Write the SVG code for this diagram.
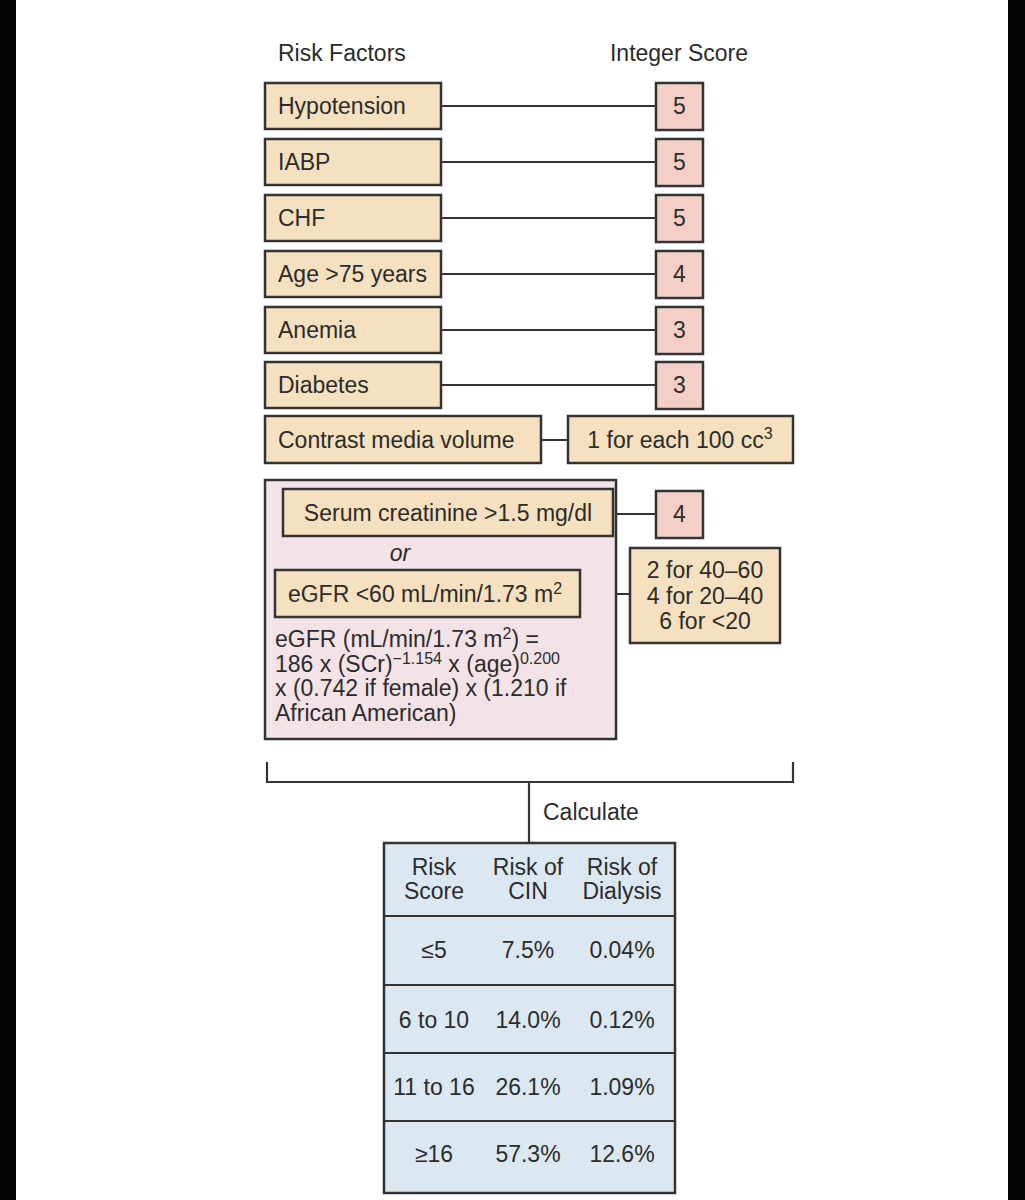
<svg xmlns="http://www.w3.org/2000/svg" width="1025" height="1200" viewBox="0 0 1025 1200">
<style>
text{font-family:"Liberation Sans",Arial,sans-serif;font-size:23px;fill:#2b2b2b}
.f{fill:#f5e0bf;stroke:#333;stroke-width:2.5}
.s{fill:#f5cfc7;stroke:#333;stroke-width:2.5}
.p{fill:#f3e3e6;stroke:#333;stroke-width:2.5}
.t{fill:#dbe8f1;stroke:#333;stroke-width:2.5}
.c{stroke:#333;stroke-width:2.2;fill:none}
.m{text-anchor:middle}
.sup{font-size:16px}
</style>
<rect x="0" y="0" width="1025" height="1200" fill="#fff"/>
<rect x="0" y="0" width="16" height="1200" fill="#050505"/>
<rect x="1008" y="0" width="17" height="1200" fill="#050505"/>
<text x="278" y="61">Risk Factors</text>
<text x="679" y="61" class="m">Integer Score</text>
<g id="connectors">
<path class="c" d="M441 106H656M441 162H656M441 218H656M441 274H656M441 330H656M441 385H656M541 440H568M613 514H656M580 594H630"/>
<path class="c" d="M267 762V782H793V762M529 782V843"/>
</g>
<g id="hypotension"><rect class="f" x="265" y="83" width="176" height="46"/><text x="278" y="114">Hypotension</text></g>
<g id="score1"><rect class="s" x="656" y="83" width="47" height="47"/><text x="679.5" y="114" class="m">5</text></g>
<g id="iabp"><rect class="f" x="265" y="139" width="176" height="46"/><text x="278" y="170">IABP</text></g>
<g id="score2"><rect class="s" x="656" y="139" width="47" height="47"/><text x="679.5" y="170" class="m">5</text></g>
<g id="chf"><rect class="f" x="265" y="195" width="176" height="46"/><text x="278" y="226">CHF</text></g>
<g id="score3"><rect class="s" x="656" y="195" width="47" height="47"/><text x="679.5" y="226" class="m">5</text></g>
<g id="age"><rect class="f" x="265" y="251" width="176" height="46"/><text x="278" y="282">Age &gt;75 years</text></g>
<g id="score4"><rect class="s" x="656" y="251" width="47" height="47"/><text x="679.5" y="282" class="m">4</text></g>
<g id="anemia"><rect class="f" x="265" y="307" width="176" height="46"/><text x="278" y="338">Anemia</text></g>
<g id="score5"><rect class="s" x="656" y="307" width="47" height="47"/><text x="679.5" y="338" class="m">3</text></g>
<g id="diabetes"><rect class="f" x="265" y="362" width="176" height="46"/><text x="278" y="393">Diabetes</text></g>
<g id="score6"><rect class="s" x="656" y="362" width="47" height="47"/><text x="679.5" y="393" class="m">3</text></g>
<g id="contrast"><rect class="f" x="265" y="416" width="276" height="47"/><text x="278" y="448">Contrast media volume</text></g>
<g id="contrastscore"><rect class="f" x="568" y="416" width="225" height="47"/><text x="680" y="448" class="m">1 for each 100 cc<tspan class="sup" dy="-9">3</tspan></text></g>
<g id="renal"><rect class="p" x="265" y="480" width="351" height="259"/>
<text x="400" y="561" class="m" font-style="italic">or</text>
<text x="275" y="647">eGFR (mL/min/1.73 m<tspan class="sup" dy="-8">2</tspan><tspan dy="8">) =</tspan></text>
<text x="275" y="672">186 x (SCr)<tspan class="sup" dy="-8">−1.154</tspan><tspan dy="8"> x (age)</tspan><tspan class="sup" dy="-8">0.200</tspan></text>
<text x="275" y="696">x (0.742 if female) x (1.210 if</text>
<text x="275" y="721">African American)</text>
</g>
<g id="creatinine"><rect class="f" x="283" y="489" width="330" height="47"/><text x="448" y="521" class="m">Serum creatinine &gt;1.5 mg/dl</text></g>
<g id="creatscore"><rect class="s" x="656" y="491" width="47" height="47"/><text x="679.5" y="522" class="m">4</text></g>
<g id="egfr"><rect class="f" x="275" y="570" width="305" height="47"/><text x="425" y="602" class="m">eGFR &lt;60 mL/min/1.73 m<tspan class="sup" dy="-8">2</tspan></text></g>
<g id="egfrscore"><rect class="f" x="630" y="548" width="150" height="95"/>
<text x="705" y="578" class="m">2 for 40–60</text>
<text x="705" y="604" class="m">4 for 20–40</text>
<text x="705" y="629" class="m">6 for &lt;20</text></g>
<text x="543" y="820">Calculate</text>
<g id="table">
<rect class="t" x="384" y="843" width="291" height="350"/>
<path class="c" d="M384 916H675M384 985H675M384 1053H675M384 1121H675"/>
<text x="434" y="875" class="m">Risk</text><text x="434" y="899" class="m">Score</text>
<text x="528" y="875" class="m">Risk of</text><text x="528" y="899" class="m">CIN</text>
<text x="622" y="875" class="m">Risk of</text><text x="622" y="899" class="m">Dialysis</text>
<text x="434" y="958" class="m">≤5</text><text x="528" y="958" class="m">7.5%</text><text x="622" y="958" class="m">0.04%</text>
<text x="434" y="1028" class="m">6 to 10</text><text x="528" y="1028" class="m">14.0%</text><text x="622" y="1028" class="m">0.12%</text>
<text x="434" y="1095" class="m">11 to 16</text><text x="528" y="1095" class="m">26.1%</text><text x="622" y="1095" class="m">1.09%</text>
<text x="434" y="1162" class="m">≥16</text><text x="528" y="1162" class="m">57.3%</text><text x="622" y="1162" class="m">12.6%</text>
</g>
</svg>
